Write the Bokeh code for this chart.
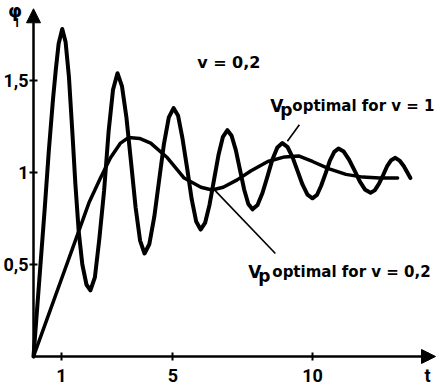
from bokeh.plotting import figure
from bokeh.models import Range1d, FixedTicker, Arrow, NormalHead, ColumnDataSource, LinearAxis
from bokeh.core.properties import value
from bokeh.embed import file_html
from bokeh.resources import INLINE

# ---- data ----
# oscillating response: "Vp optimal for v = 1"
t_v1 = [0.0, 0.2, 0.4, 0.55, 0.7, 0.8, 0.9, 1.03, 1.15, 1.27, 1.4, 1.5, 1.62, 1.75, 1.9, 2.04,
        2.2, 2.36, 2.53, 2.69, 2.85, 3.01,
        3.17, 3.33, 3.5, 3.66, 3.82, 3.98,
        4.15, 4.33, 4.5, 4.67, 4.85, 5.02,
        5.18, 5.34, 5.51, 5.67, 5.83, 5.99,
        6.15, 6.31, 6.47, 6.63, 6.79, 6.95,
        7.1, 7.25, 7.4, 7.55, 7.7, 7.85,
        8.03, 8.21, 8.39, 8.56, 8.74, 8.92,
        9.1, 9.28, 9.46, 9.64, 9.82, 10.0,
        10.16, 10.31, 10.47, 10.62, 10.78, 10.93,
        11.12, 11.31, 11.51, 11.7, 11.89, 12.08,
        12.23, 12.38, 12.53, 12.67, 12.82, 12.97,
        13.12, 13.27, 13.4, 13.51]
phi_v1 = [0.0, 0.4, 0.8, 1.12, 1.4, 1.56, 1.7, 1.78, 1.71, 1.52, 1.2, 0.94, 0.68, 0.5, 0.39, 0.36,
          0.43, 0.64, 0.9, 1.22, 1.45, 1.54,
          1.47, 1.3, 1.05, 0.81, 0.63, 0.56,
          0.61, 0.76, 0.955, 1.15, 1.3, 1.35,
          1.31, 1.185, 1.02, 0.855, 0.734, 0.69,
          0.726, 0.825, 0.96, 1.095, 1.194, 1.23,
          1.2, 1.123, 1.015, 0.908, 0.829, 0.8,
          0.824, 0.89, 0.98, 1.07, 1.136, 1.16,
          1.14, 1.085, 1.01, 0.935, 0.88, 0.86,
          0.878, 0.928, 0.995, 1.063, 1.112, 1.13,
          1.114, 1.07, 1.01, 0.95, 0.906, 0.89,
          0.903, 0.938, 0.985, 1.033, 1.067, 1.08,
          1.065, 1.035, 1.0, 0.97]

# smooth response: "Vp optimal for v = 0,2"
t_v02 = [0.0, 0.5, 1.0, 1.5, 2.0, 2.4, 2.76, 3.12, 3.4, 3.8, 4.2, 4.8, 5.4, 6.0, 6.4, 6.8,
         7.3, 7.8, 8.4, 9.0, 9.5, 10.0, 10.6, 11.2, 11.8, 12.4, 13.05]
phi_v02 = [0.0, 0.21, 0.42, 0.63, 0.84, 0.97, 1.08, 1.16, 1.19, 1.185, 1.16, 1.08, 0.97, 0.92,
           0.905, 0.92, 0.96, 1.01, 1.06, 1.085, 1.09, 1.06, 1.02, 0.99, 0.975, 0.97, 0.97]

x_ticks = [1, 5, 10]
x_tick_labels = ["1", "5", "10"]
y_ticks = [0.5, 1.0, 1.5]
y_tick_labels = ["0,5", "1", "1,5"]

TICK_FONT = "Roboto"
TEXT_FONT = "DejaVu Sans"

p = figure(width=441, height=387, output_backend="svg", toolbar_location=None,
           x_range=Range1d(-1.183, 14.624), y_range=Range1d(-0.1685, 1.935),
           min_border=0, x_axis_location=None, y_axis_location=None)
p.outline_line_color = None
p.background_fill_color = "white"
p.border_fill_color = "white"

xax = LinearAxis(fixed_location=0)
yax = LinearAxis(fixed_location=0)
p.add_layout(xax, "below")
p.add_layout(yax, "left")
p.grid.visible = False

# axis name "t" sits in the tick-label row, under the arrow head
T_POS = 14.12
for ax, ticks, labels in ((xax, x_ticks + [T_POS], x_tick_labels + ["t"]),
                          (yax, y_ticks, y_tick_labels)):
    ax.ticker = FixedTicker(ticks=ticks)
    ax.major_label_overrides = {k: v for k, v in zip(ticks, labels)}
    ax.axis_line_color = None
    ax.minor_tick_line_color = None
    ax.major_tick_line_color = "black"
    ax.major_tick_line_width = 2
    ax.major_tick_in = 4
    ax.major_tick_out = 4
    ax.major_label_text_font = TICK_FONT
    ax.major_label_text_font_style = "bold"
    ax.major_label_text_font_size = "18px"
    ax.major_label_text_color = "black"
xax.major_label_standoff = 5
yax.major_label_standoff = 1

# axes with arrowheads
p.add_layout(Arrow(end=NormalHead(size=14, fill_color="black", line_color="black"),
                   x_start=0, y_start=0, x_end=14.41, y_end=0, line_width=2.5))
p.add_layout(Arrow(end=NormalHead(size=14, fill_color="black", line_color="black"),
                   x_start=0, y_start=0, x_end=0, y_end=1.89, line_width=2.5))

src1 = ColumnDataSource(dict(t=t_v1, phi=phi_v1))
src2 = ColumnDataSource(dict(t=t_v02, phi=phi_v02))
p.line("t", "phi", source=src1, line_color="black", line_width=4,
       line_join="round", line_cap="round")
p.line("t", "phi", source=src2, line_color="black", line_width=3.5,
       line_join="round", line_cap="round")

# leader lines
p.segment(x0=[9.53, 6.52], y0=[1.26, 0.90], x1=[9.10, 8.67], y1=[1.17, 0.56],
          line_color="black", line_width=1.6)

def txt(x, y, s, size="15px", xo=0, yo=0, align="left", font=TEXT_FONT):
    p.text(x=[x], y=[y], text=[s], x_offset=xo, y_offset=yo,
           text_font=value(font), text_font_style="bold", text_font_size=size,
           text_color="black", text_baseline="middle", text_align=align)

txt(7.0, 1.6, "v = 0,2", size="16px", align="center")
txt(8.49, 1.364, "V", size="17px")
txt(8.49, 1.364, "p", xo=10, yo=4, size="17px")
txt(8.49, 1.364, "optimal for v = 1", xo=22)
txt(7.7, 0.457, "V", size="17px")
txt(7.7, 0.457, "p", xo=10, yo=4, size="17px")
txt(7.7, 0.457, "optimal for v = 0,2", xo=24)

# axis name phi_1
txt(-0.66, 1.88, "φ", size="18px", align="center")
txt(-0.6, 1.815, "1", size="12px", align="center", font=TICK_FONT)

open("out.html", "w").write(file_html(p, INLINE))
